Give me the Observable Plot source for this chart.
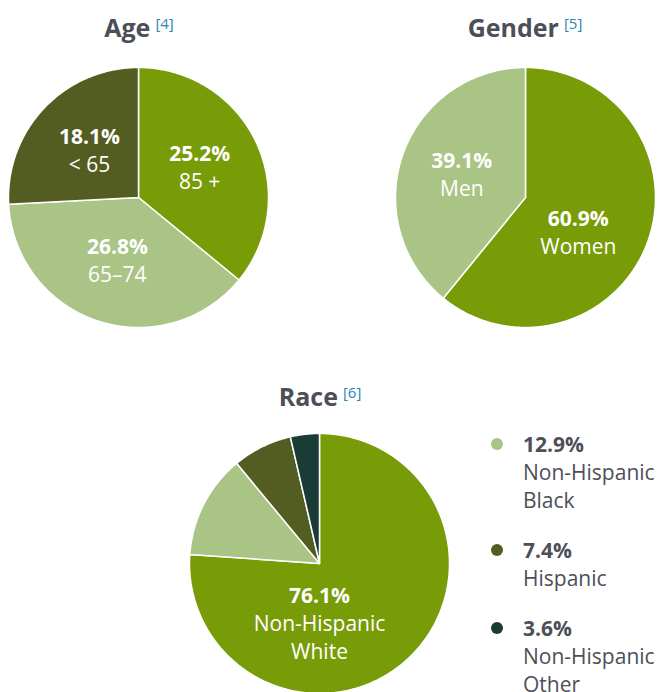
<!DOCTYPE html>
<html>
<head>
<meta charset="utf-8">
<script src="https://cdn.jsdelivr.net/npm/d3@7"></script>
<script src="https://cdn.jsdelivr.net/npm/@observablehq/plot@0.6"></script>
<style>
  body { margin: 0; background: #fff; font-family: "Open Sans", sans-serif; }
  #root { position: relative; width: 665px; height: 692px; overflow: hidden; }
  .title { position: absolute; width: 240px; text-align: center; font-weight: 700; font-size: 25px;
           line-height: 30px; color: #4c4f57; white-space: nowrap; }
  .title .ref { font-weight: 400; font-size: 15px; color: #2a86b4; vertical-align: 8px; margin-left: 5px; }
  .pie { position: absolute; }
  .legend { position: absolute; left: 491px; top: 430px; color: #4c4f57; font-size: 21px; line-height: 28px; }
  .legend .item { position: relative; margin-bottom: 22px; }
  .legend .dot { position: absolute; left: 0; top: 8px; width: 12px; height: 12px; border-radius: 50%; }
  .legend .txt { margin-left: 32px; white-space: nowrap; }
  .legend b { font-weight: 700; }
</style>
</head>
<body>
<div id="root"></div>
<script>
// ---- data ----
const ageLabels = ["85 +", "65–74", "< 65"];
const ageValues = [25.2, 26.8, 18.1];
const ageColors = ["#789b08", "#a9c484", "#545d21"];

const genderLabels = ["Women", "Men"];
const genderValues = [60.9, 39.1];
const genderColors = ["#789b08", "#a9c484"];

const raceLabels = ["Non-Hispanic\nWhite", "Non-Hispanic\nBlack", "Hispanic", "Non-Hispanic\nOther"];
const raceValues = [76.1, 12.9, 7.4, 3.6];
const raceColors = ["#789b08", "#a9c484", "#545d21", "#1b3b37"];

const titles = [
  {text: "Age", ref: "[4]"},
  {text: "Gender", ref: "[5]"},
  {text: "Race", ref: "[6]"}
];

// ---- layout ----
const R = 130, M = 1, SIZE = 2 * (R + M);
const root = document.getElementById("root");

function fmt(v) { return v.toFixed(1) + "%"; }

function makePie(labels, values, colors, opts) {
  const arcs = d3.pie().sort(null).value(d => d)(values);
  const pts = [];
  const rows = [];
  arcs.forEach((a, i) => {
    const key = labels[i];
    const n = Math.max(2, Math.ceil((a.endAngle - a.startAngle) / (Math.PI / 360)));
    pts.push({key, x: 0, y: 0});
    for (let k = 0; k <= n; k++) {
      const t = a.startAngle + (a.endAngle - a.startAngle) * k / n;
      pts.push({key, x: Math.sin(t), y: Math.cos(t)});
    }
    pts.push({key, x: 0, y: 0});
    if (opts.inside.includes(i)) {
      const ov = (opts.place || {})[i];
      const ang = ov ? ov[0] * Math.PI / 180 : (a.startAngle + a.endAngle) / 2;
      const rr = ov ? ov[1] : 0.52;
      const lines = [fmt(values[i]), ...labels[i].split("\n")];
      const m = lines.length;
      lines.forEach((txt, k) => rows.push({
        x: rr * Math.sin(ang), y: rr * Math.cos(ang), text: txt,
        dy: (k - (m - 1) / 2) * 28, bold: k === 0
      }));
    }
  });
  const groups = d3.groups(rows, d => d.dy + "|" + d.bold);
  const textMarks = groups.map(([, g]) => Plot.text(g, {
    x: "x", y: "y", text: "text", dy: g[0].dy, fill: "white",
    fontSize: 21, fontWeight: g[0].bold ? 700 : 400, fontFamily: "Open Sans"
  }));
  const plot = Plot.plot({
    width: SIZE, height: SIZE,
    marginTop: M, marginBottom: M, marginLeft: M, marginRight: M,
    x: {domain: [-1, 1], axis: null},
    y: {domain: [-1, 1], axis: null},
    color: {domain: labels, range: colors},
    style: {overflow: "visible", background: "transparent"},
    marks: [
      Plot.line(pts, {x: "x", y: "y", z: "key", fill: "key", stroke: "white", strokeWidth: 1.5, strokeLinejoin: "round"}),
      ...textMarks
    ]
  });
  const div = document.createElement("div");
  div.className = "pie";
  div.style.left = (opts.cx - SIZE / 2) + "px";
  div.style.top = (opts.cy - SIZE / 2) + "px";
  div.appendChild(plot);
  root.appendChild(div);
}

function makeTitle(t, cx, top) {
  const d = document.createElement("div");
  d.className = "title";
  d.style.left = (cx - 120) + "px";
  d.style.top = top + "px";
  d.innerHTML = t.text + '<span class="ref">' + t.ref + '</span>';
  root.appendChild(d);
}

makeTitle(titles[0], 139, 8);
makeTitle(titles[1], 525, 8);
makeTitle(titles[2], 320, 377);

makePie(ageLabels, ageValues, ageColors, {cx: 138, cy: 197, inside: [0, 1, 2]});
makePie(genderLabels, genderValues, genderColors, {cx: 525, cy: 197, inside: [0, 1], place: {0: [124, 0.49]}});
makePie(raceLabels, raceValues, raceColors, {cx: 319, cy: 563, inside: [0], place: {0: [180, 0.47]}});

// legend for the small race slices
const legend = document.createElement("div");
legend.className = "legend";
[1, 2, 3].forEach(i => {
  const item = document.createElement("div");
  item.className = "item";
  item.innerHTML = '<span class="dot" style="background:' + raceColors[i] + '"></span>' +
    '<div class="txt"><b>' + fmt(raceValues[i]) + '</b><br>' + raceLabels[i].split("\n").join("<br>") + '</div>';
  legend.appendChild(item);
});
root.appendChild(legend);
</script>
</body>
</html>
